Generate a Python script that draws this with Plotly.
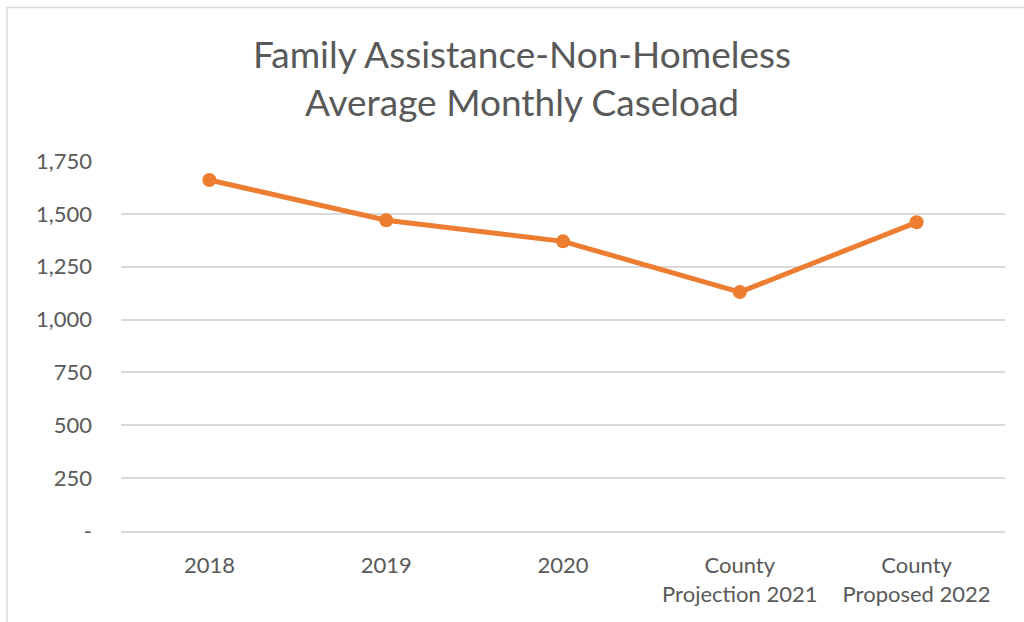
import plotly.graph_objects as go

categories = ["2018", "2019", "2020", "County<br>Projection 2021", "County<br>Proposed 2022"]
caseload = [1660, 1470, 1370, 1130, 1460]
y_tickvals = [0, 250, 500, 750, 1000, 1250, 1500, 1750]
y_ticktext = ["-", "250", "500", "750", "1,000", "1,250", "1,500", "1,750"]

FONT = "Lato"
GRAY = "#595959"

fig = go.Figure()
fig.add_trace(go.Scatter(
    x=categories, y=caseload, mode="lines+markers",
    line=dict(color="#ED7D31", width=5),
    marker=dict(color="#ED7D31", size=14),
    hoverinfo="skip", showlegend=False,
))

fig.update_layout(
    width=1024, height=622,
    margin=dict(l=121, r=19, t=161, b=91),
    paper_bgcolor="white", plot_bgcolor="white",
    font=dict(family=FONT, color=GRAY),
    title=dict(text="Family Assistance-Non-Homeless<br>Average Monthly Caseload",
               x=522 / 1024, xanchor="center", xref="container",
               y=1 - 68 / 622, yanchor="middle", yref="container",
               font=dict(family=FONT, size=37, color=GRAY)),
    xaxis=dict(range=[-0.5, 4.5], showgrid=False, showline=True,
               linecolor="#D9D9D9", linewidth=1.5,
               ticks="", tickfont=dict(size=22, color=GRAY), ticklabelstandoff=14,
               zeroline=False),
    yaxis=dict(range=[0, 1750], tickvals=y_tickvals, ticktext=y_ticktext,
               showgrid=True, gridcolor="#D9D9D9", gridwidth=1.5,
               showline=False, zeroline=False, ticks="",
               tickfont=dict(size=22, color=GRAY), ticklabelstandoff=28),
    shapes=[dict(type="rect", xref="paper", yref="paper",
                 x0=-0.129, x1=1.05, y0=-0.4, y1=1.415,
                 line=dict(color="#D9D9D9", width=1.5), fillcolor="rgba(0,0,0,0)",
                 layer="below")],
)

fig.write_html("out.html", config={"displayModeBar": False},
               post_script="document.body.style.margin='0';")
